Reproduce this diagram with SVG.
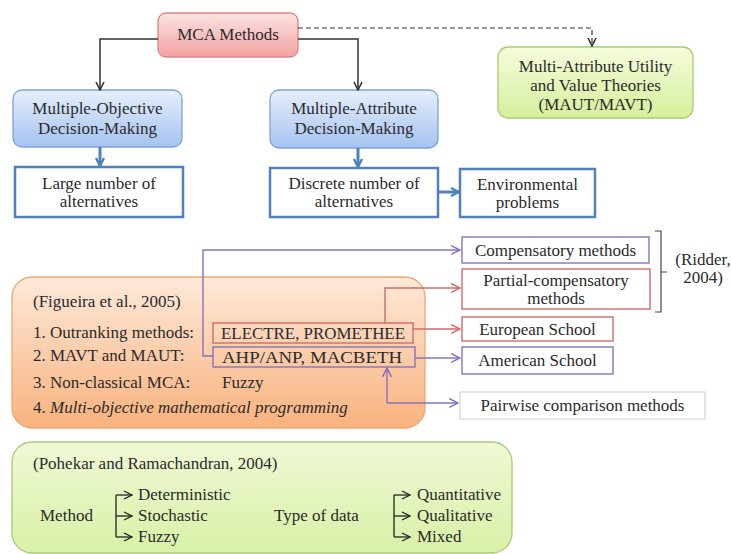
<svg xmlns="http://www.w3.org/2000/svg" width="731" height="554" viewBox="0 0 731 554">
  <defs>
    <linearGradient id="gPink" x1="0" y1="0" x2="0" y2="1">
      <stop offset="0" stop-color="#fde3e3"/>
      <stop offset="1" stop-color="#f3a2a2"/>
    </linearGradient>
    <linearGradient id="gBlue" x1="0" y1="0" x2="0" y2="1">
      <stop offset="0" stop-color="#e6effc"/>
      <stop offset="1" stop-color="#a5c2f0"/>
    </linearGradient>
    <linearGradient id="gGreen" x1="0" y1="0" x2="0" y2="1">
      <stop offset="0" stop-color="#f5fcdc"/>
      <stop offset="1" stop-color="#d6ef9c"/>
    </linearGradient>
    <linearGradient id="gOrange" x1="0" y1="0" x2="0" y2="1">
      <stop offset="0" stop-color="#fde9d9"/>
      <stop offset="1" stop-color="#f9b27e"/>
    </linearGradient>
    <linearGradient id="gGreen2" x1="0" y1="0" x2="0" y2="1">
      <stop offset="0" stop-color="#f0f9d6"/>
      <stop offset="1" stop-color="#d8f0a6"/>
    </linearGradient>
    <marker id="arrBlack" viewBox="0 0 10 10" refX="9" refY="5" markerWidth="10" markerHeight="10" markerUnits="userSpaceOnUse" orient="auto">
      <path d="M1,1 L9,5 L1,9" fill="none" stroke="#333" stroke-width="1.6"/>
    </marker>
    <marker id="arrBlue" viewBox="0 0 10 10" refX="9" refY="5" markerWidth="10" markerHeight="12" markerUnits="userSpaceOnUse" orient="auto">
      <path d="M1,1 L9,5 L1,9" fill="none" stroke="#4f81bd" stroke-width="2.4"/>
    </marker>
    <marker id="arrPurple" viewBox="0 0 10 10" refX="9" refY="5" markerWidth="11" markerHeight="11" markerUnits="userSpaceOnUse" orient="auto">
      <path d="M1,1 L9,5 L1,9" fill="none" stroke="#8474bc" stroke-width="1.4"/>
    </marker>
    <marker id="arrRed" viewBox="0 0 10 10" refX="9" refY="5" markerWidth="11" markerHeight="11" markerUnits="userSpaceOnUse" orient="auto">
      <path d="M1,1 L9,5 L1,9" fill="none" stroke="#cf6b6b" stroke-width="1.4"/>
    </marker>
    <marker id="arrDark" viewBox="0 0 10 10" refX="9" refY="5" markerWidth="10" markerHeight="10" markerUnits="userSpaceOnUse" orient="auto">
      <path d="M1,1 L9,5 L1,9" fill="none" stroke="#222" stroke-width="1.3"/>
    </marker>
  </defs>

  <rect width="731" height="554" fill="#ffffff"/>

  <g font-family="Liberation Serif" font-size="17" fill="#2b2b2b">

  <!-- large background panels -->
  <g id="figueira">
    <rect fill="url(#gOrange)" stroke="#eba874" stroke-width="1.3" x="12" y="277" width="413" height="151" rx="20"/>
    <text font-family="Liberation Serif" x="33" y="307">(Figueira et al., 2005)</text>
    <text font-family="Liberation Serif" x="33" y="338">1. Outranking methods:</text>
    <text font-family="Liberation Serif" x="33" y="361">2. MAVT and MAUT:</text>
    <text font-family="Liberation Serif" x="33" y="388">3. Non-classical MCA:</text>
    <text font-family="Liberation Serif" x="222" y="388">Fuzzy</text>
    <text font-family="Liberation Serif" x="33" y="413">4. <tspan font-style="italic">Multi-objective mathematical programming</tspan></text>
  </g>

  <g id="electre">
    <rect fill="none" stroke="#cf6b6b" stroke-width="1.4" x="213" y="323" width="200" height="20"/>
    <text font-family="Liberation Serif" x="221" y="339" textLength="184" lengthAdjust="spacingAndGlyphs">ELECTRE, PROMETHEE</text>
  </g>
  <g id="ahp">
    <rect fill="none" stroke="#8474bc" stroke-width="1.4" x="213" y="347" width="202" height="20"/>
    <text font-family="Liberation Serif" x="222" y="363" textLength="180" lengthAdjust="spacingAndGlyphs">AHP/ANP, MACBETH</text>
  </g>

  <g id="pohekar">
    <rect fill="url(#gGreen2)" stroke="#a8c97a" stroke-width="1.3" x="12" y="442" width="500" height="111" rx="20"/>
    <text font-family="Liberation Serif" x="33" y="469">(Pohekar and Ramachandran, 2004)</text>
    <text font-family="Liberation Serif" x="40" y="521">Method</text>
    <text font-family="Liberation Serif" x="138" y="500">Deterministic</text>
    <text font-family="Liberation Serif" x="138" y="521">Stochastic</text>
    <text font-family="Liberation Serif" x="138" y="542">Fuzzy</text>
    <text font-family="Liberation Serif" x="274" y="521">Type of data</text>
    <text font-family="Liberation Serif" x="417" y="500">Quantitative</text>
    <text font-family="Liberation Serif" x="417" y="521">Qualitative</text>
    <text font-family="Liberation Serif" x="417" y="542">Mixed</text>
    <g fill="none" stroke="#222" stroke-width="1.3">
      <path d="M116,495 V537"/>
      <path d="M116,495 H132" marker-end="url(#arrDark)"/>
      <path d="M116,516 H132" marker-end="url(#arrDark)"/>
      <path d="M116,537 H132" marker-end="url(#arrDark)"/>
      <path d="M394,495 V537"/>
      <path d="M394,495 H410" marker-end="url(#arrDark)"/>
      <path d="M394,516 H410" marker-end="url(#arrDark)"/>
      <path d="M394,537 H410" marker-end="url(#arrDark)"/>
    </g>
  </g>

  <!-- nodes -->
  <g id="mca" text-anchor="middle">
    <rect fill="url(#gPink)" stroke="#d98585" stroke-width="1.3" x="158" y="13" width="140" height="44" rx="8"/>
    <text font-family="Liberation Serif" x="228" y="40">MCA Methods</text>
  </g>
  <g id="maut" text-anchor="middle">
    <rect fill="url(#gGreen)" stroke="#a9cd6e" stroke-width="1.3" x="498" y="47" width="195" height="71" rx="10"/>
    <text font-family="Liberation Serif" x="595.5" y="72">Multi-Attribute Utility</text>
    <text font-family="Liberation Serif" x="595.5" y="91">and Value Theories</text>
    <text font-family="Liberation Serif" x="595.5" y="110">(MAUT/MAVT)</text>
  </g>
  <g id="modm" text-anchor="middle">
    <rect fill="url(#gBlue)" stroke="#7fa3d9" stroke-width="1.3" x="13" y="90" width="169" height="57" rx="9"/>
    <text font-family="Liberation Serif" x="97.5" y="114">Multiple-Objective</text>
    <text font-family="Liberation Serif" x="97.5" y="134">Decision-Making</text>
  </g>
  <g id="madm" text-anchor="middle">
    <rect fill="url(#gBlue)" stroke="#7fa3d9" stroke-width="1.3" x="270" y="90" width="168" height="58" rx="9"/>
    <text font-family="Liberation Serif" x="354" y="114">Multiple-Attribute</text>
    <text font-family="Liberation Serif" x="354" y="134">Decision-Making</text>
  </g>
  <g id="large" text-anchor="middle">
    <rect fill="#ffffff" stroke="#4f81bd" stroke-width="2.5" x="15" y="167" width="168" height="50"/>
    <text font-family="Liberation Serif" x="99" y="189">Large number of</text>
    <text font-family="Liberation Serif" x="99" y="207">alternatives</text>
  </g>
  <g id="discrete" text-anchor="middle">
    <rect fill="#ffffff" stroke="#4f81bd" stroke-width="2.5" x="270" y="168" width="168" height="49"/>
    <text font-family="Liberation Serif" x="354" y="189">Discrete number of</text>
    <text font-family="Liberation Serif" x="354" y="207">alternatives</text>
  </g>
  <g id="environmental" text-anchor="middle">
    <rect fill="#ffffff" stroke="#4f81bd" stroke-width="2.5" x="460" y="169" width="135" height="48"/>
    <text font-family="Liberation Serif" x="527.5" y="190">Environmental</text>
    <text font-family="Liberation Serif" x="527.5" y="208">problems</text>
  </g>
  <g id="compensatory" text-anchor="middle">
    <rect fill="#ffffff" stroke="#8474bc" stroke-width="1.4" x="462" y="237" width="187" height="26"/>
    <text font-family="Liberation Serif" x="555.5" y="256">Compensatory methods</text>
  </g>
  <g id="partial" text-anchor="middle">
    <rect fill="#ffffff" stroke="#cf6b6b" stroke-width="1.4" x="462" y="269" width="188" height="40"/>
    <text font-family="Liberation Serif" x="556" y="286">Partial-compensatory</text>
    <text font-family="Liberation Serif" x="556" y="304">methods</text>
  </g>
  <g id="european" text-anchor="middle">
    <rect fill="#ffffff" stroke="#cf6b6b" stroke-width="1.4" x="462" y="317" width="151" height="24"/>
    <text font-family="Liberation Serif" x="537.5" y="335">European School</text>
  </g>
  <g id="american" text-anchor="middle">
    <rect fill="#ffffff" stroke="#8474bc" stroke-width="1.4" x="462" y="347" width="151" height="27"/>
    <text font-family="Liberation Serif" x="537.5" y="366">American School</text>
  </g>
  <g id="pairwise" text-anchor="middle">
    <rect fill="#ffffff" stroke="#d4d4d4" stroke-width="1.2" x="460" y="392" width="245" height="27"/>
    <text font-family="Liberation Serif" x="582.5" y="411">Pairwise comparison methods</text>
  </g>
  <g id="ridder" text-anchor="middle">
    <path d="M655,231 H661 V312 H655 M661,272 H667" fill="none" stroke="#444" stroke-width="1.2"/>
    <text font-family="Liberation Serif" x="703" y="265">(Ridder,</text>
    <text font-family="Liberation Serif" x="703" y="283">2004)</text>
  </g>

  </g>

  <!-- connectors -->
  <g id="connectors" fill="none">
    <path d="M158,39 H100 V90" stroke="#333" stroke-width="1.5" marker-end="url(#arrBlack)"/>
    <path d="M298,39 H358 V90" stroke="#333" stroke-width="1.5" marker-end="url(#arrBlack)"/>
    <path d="M298,28 H592 V46" stroke="#333" stroke-width="1.2" stroke-dasharray="5,3" marker-end="url(#arrBlack)"/>
    <path d="M100,147 V166" stroke="#4f81bd" stroke-width="3" marker-end="url(#arrBlue)"/>
    <path d="M358,148 V167" stroke="#4f81bd" stroke-width="3" marker-end="url(#arrBlue)"/>
    <path d="M438,192 H459" stroke="#4f81bd" stroke-width="3" marker-end="url(#arrBlue)"/>
    <path d="M213,356 H203 V250 H460" stroke="#8474bc" stroke-width="1.4" marker-end="url(#arrPurple)"/>
    <path d="M385,323 V288 H460" stroke="#cf6b6b" stroke-width="1.4" marker-end="url(#arrRed)"/>
    <path d="M413,329 H460" stroke="#cf6b6b" stroke-width="1.4" marker-end="url(#arrRed)"/>
    <path d="M415,358 H460" stroke="#8474bc" stroke-width="1.4" marker-end="url(#arrPurple)"/>
    <path d="M387,403 V368" stroke="#8474bc" stroke-width="1.4" marker-end="url(#arrPurple)"/>
    <path d="M387,403 H458" stroke="#8474bc" stroke-width="1.4" marker-end="url(#arrPurple)"/>
  </g>
</svg>
